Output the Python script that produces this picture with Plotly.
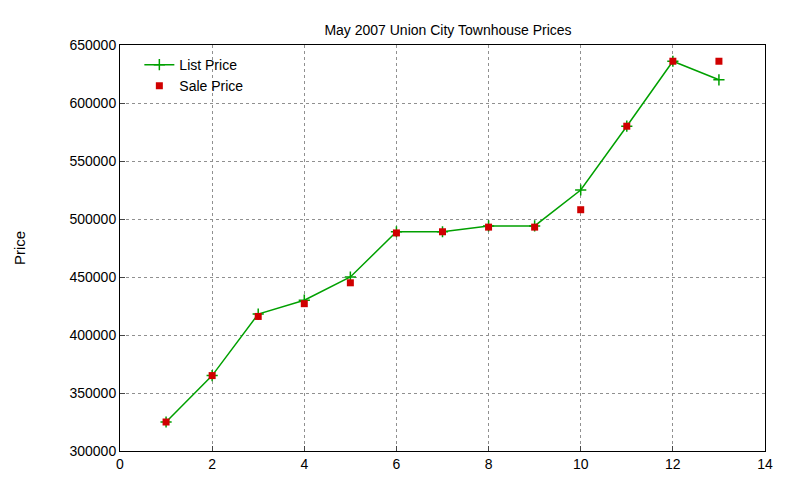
import plotly.graph_objects as go

listings = [1, 2, 3, 4, 5, 6, 7, 8, 9, 10, 11, 12, 13]
list_price = [325000, 365000, 418000, 430000, 450000, 489000, 489000,
              494000, 494000, 525000, 580000, 636000, 620000]
sale_price = [325000, 365000, 416000, 427000, 445000, 488000, 489000,
              493000, 493000, 508000, 580000, 636000, 636000]

fig = go.Figure()
fig.add_trace(go.Scatter(x=listings, y=list_price, name="List Price", mode="lines+markers",
                         line=dict(color="#00a000", width=1.5),
                         marker=dict(symbol="cross-thin", size=8, line=dict(color="#00a000", width=1.5))))
fig.add_trace(go.Scatter(x=listings, y=sale_price, name="Sale Price", mode="markers",
                         marker=dict(symbol="square", size=7, color="#d00000")))

axis = dict(showline=True, mirror=True, linecolor="black", ticks="inside", ticklen=5,
            gridcolor="#909090", griddash="dot", zeroline=False,
            tickfont=dict(family="Liberation Sans", size=14, color="black"))
fig.update_xaxes(range=[0, 14], dtick=2, **axis)
fig.update_yaxes(range=[300000, 650000], dtick=50000, tickformat="d",
                 title=dict(text="Price", font=dict(size=15), standoff=40), **axis)
fig.update_layout(
    width=800, height=480, plot_bgcolor="white", paper_bgcolor="white",
    margin=dict(l=112, r=43, t=37, b=37),
    font=dict(family="Liberation Sans", size=14, color="black"),
    title=dict(text="May 2007 Union City Townhouse Prices", x=0.55, xanchor="center", y=0.965, font=dict(size=14)),
    legend=dict(x=0.03, y=0.99, bgcolor="rgba(0,0,0,0)", font=dict(size=14), tracegroupgap=0),
)
fig.write_html("out.html")
